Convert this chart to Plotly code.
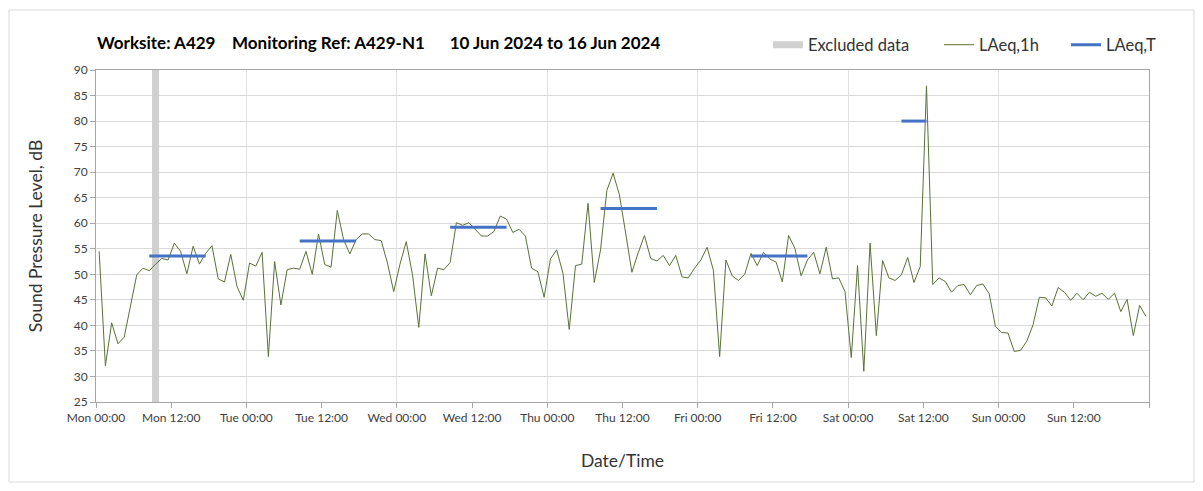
import pandas as pd
import plotly.graph_objects as go

# ---- data ----
start = "2024-06-10 00:00"
laeq_1h = [
    # Mon
    54.5, 32.1, 40.5, 36.4, 37.7, 44.0, 49.9, 51.2, 50.7, 52.0, 53.1, 52.8,
    56.1, 54.5, 50.1, 55.5, 52.0, 54.1, 55.6, 49.1, 48.5, 53.9, 47.6, 44.9,
    # Tue
    52.2, 51.6, 54.3, 33.9, 52.5, 44.0, 50.9, 51.2, 51.0, 54.5, 50.0, 57.9,
    51.9, 51.4, 62.5, 56.8, 54.0, 56.8, 57.9, 57.9, 56.8, 56.6, 52.2, 46.6,
    # Wed
    52.0, 56.4, 49.9, 39.6, 54.0, 45.8, 51.2, 50.9, 52.3, 60.1, 59.6, 60.1,
    58.7, 57.5, 57.5, 58.4, 61.4, 60.8, 58.2, 58.8, 57.5, 51.2, 50.5, 45.5,
    # Thu
    53.0, 54.8, 50.2, 39.2, 51.7, 52.0, 63.9, 48.4, 54.8, 66.4, 69.8, 65.6,
    58.1, 50.4, 54.2, 57.6, 53.1, 52.6, 53.7, 51.7, 53.7, 49.5, 49.3, 51.2,
    # Fri
    52.8, 55.3, 50.8, 33.9, 52.8, 49.7, 48.8, 50.0, 54.1, 51.7, 54.3, 53.0,
    52.4, 48.5, 57.6, 55.1, 49.7, 52.8, 54.3, 50.1, 55.3, 49.1, 49.3, 46.6,
    # Sat
    33.7, 51.7, 31.0, 56.1, 38.0, 52.7, 49.3, 48.8, 49.9, 53.3, 48.4, 51.5,
    86.9, 48.0, 49.3, 48.6, 46.5, 47.8, 48.0, 46.0, 47.8, 48.1, 46.2, 39.8,
    # Sun
    38.6, 38.5, 34.9, 35.1, 36.9, 40.1, 45.5, 45.4, 43.8, 47.4, 46.5, 44.9,
    46.3, 45.0, 46.5, 45.7, 46.3, 45.1, 46.3, 42.7, 45.1, 38.0, 43.9, 41.8,
]
# LAeq,T periods: (start hour index, end hour index, value)
period_start_idx = [8, 32, 56, 80, 104, 128]
period_end_idx = [17, 41, 65, 89, 113, 132]
period_values = [53.6, 56.5, 59.2, 62.9, 53.6, 80.0]
# excluded data (hour index)
excluded_idx = [9]

y_ticks = list(range(25, 91, 5))
x_tick_labels = ["Mon 00:00", "Mon 12:00", "Tue 00:00", "Tue 12:00", "Wed 00:00",
                 "Wed 12:00", "Thu 00:00", "Thu 12:00", "Fri 00:00", "Fri 12:00",
                 "Sat 00:00", "Sat 12:00", "Sun 00:00", "Sun 12:00", ""]

# ---- build ----
t0 = pd.Timestamp(start)
times = [t0 + pd.Timedelta(minutes=30) + pd.Timedelta(hours=i) for i in range(len(laeq_1h))]
x_tick_vals = [t0 + pd.Timedelta(hours=12 * k) for k in range(len(x_tick_labels))]
x_end = t0 + pd.Timedelta(days=7)

fig = go.Figure()

for k, idx in enumerate(excluded_idx):
    fig.add_trace(go.Scatter(
        x=[times[idx], times[idx]], y=[25, 90], mode="lines",
        line=dict(color="#d0d0d0", width=7),
        name="Excluded data", showlegend=(k == 0), legend="legend", hoverinfo="skip"))

fig.add_trace(go.Scatter(
    x=times, y=laeq_1h, mode="lines",
    line=dict(color="#5a7038", width=1), name="LAeq,1h", legend="legend2"))

tx, ty = [], []
for s, e, v in zip(period_start_idx, period_end_idx, period_values):
    tx += [times[s], times[e], None]
    ty += [v, v, None]
fig.add_trace(go.Scatter(
    x=tx, y=ty, mode="lines", connectgaps=False,
    line=dict(color="#4472c4", width=3), name="LAeq,T", legend="legend3"))

fig.add_trace(go.Scatter(x=[t0], y=[None], xaxis="x2", showlegend=False, hoverinfo="skip"))

font_family = "Lato, Noto Sans, sans-serif"
OFF = 8  # page body margin
W, H = 1203 - 2 * OFF, 491 - 2 * OFF
# plot area in window pixels: x 96..1149, y 70..402
L = 96 - OFF
R = W - (1149 - OFF)
T = 70 - OFF
B = H - (402 - OFF)
pw, ph = W - L - R, H - T - B


def px_x(wx):
    return (wx - OFF - L) / pw


def px_y(wy):
    return (H - B - (wy - OFF)) / ph


leg_common = dict(orientation="h", yanchor="middle", xanchor="left",
                  font=dict(size=16.5, color="#333333"), bgcolor="rgba(0,0,0,0)",
                  itemwidth=30)

fig.update_layout(
    width=W, height=H,
    margin=dict(l=L, r=R, t=T, b=B, autoexpand=False),
    paper_bgcolor="white", plot_bgcolor="white",
    font=dict(family=font_family, size=12, color="#404040"),
    showlegend=True,
    legend=dict(x=px_x(768), y=px_y(45), **leg_common),
    legend2=dict(x=px_x(939), y=px_y(45), **leg_common),
    legend3=dict(x=px_x(1066), y=px_y(45), **leg_common),
    xaxis=dict(
        type="date", range=[t0, x_end], automargin=False,
        tickvals=x_tick_vals, ticktext=x_tick_labels,
        showgrid=False, showline=True, linecolor="#a6a6a6", linewidth=1, mirror=True,
        ticks="outside", ticklen=5, tickcolor="#a6a6a6",
        tickfont=dict(size=12, color="#404040"),
        title=dict(text="Date/Time", font=dict(size=17.5, color="#333333"), standoff=30),
        zeroline=False,
    ),
    xaxis2=dict(
        type="date", range=[t0, x_end], overlaying="x", side="bottom",
        dtick=24 * 3600 * 1000, tick0=t0, showticklabels=False,
        showgrid=True, gridcolor="#e0e0e0", gridwidth=1, showline=False, ticks="",
        zeroline=False, layer="below traces",
    ),
    yaxis=dict(
        range=[25, 90], tickvals=y_ticks, ticktext=[str(v) for v in y_ticks],
        automargin=False,
        showgrid=True, gridcolor="#d9d9d9", gridwidth=1,
        showline=True, linecolor="#a6a6a6", linewidth=1, mirror=True,
        ticks="outside", ticklen=5, tickcolor="#a6a6a6",
        tickfont=dict(size=12, color="#404040"),
        title=dict(text="Sound Pressure Level, dB", font=dict(size=17.5, color="#333333"), standoff=26),
        zeroline=False,
    ),
    shapes=[dict(type="rect", xref="paper", yref="paper",
                 x0=px_x(9), x1=px_x(1194), y0=px_y(482), y1=px_y(10),
                 line=dict(color="#d9d9d9", width=1), fillcolor="rgba(0,0,0,0)", layer="below")],
    annotations=[dict(
        text="<b>Worksite: A429&nbsp;&nbsp;&nbsp;&nbsp;Monitoring Ref: A429-N1&nbsp;&nbsp;&nbsp;&nbsp;&nbsp;&nbsp;10 Jun 2024 to 16 Jun 2024</b>",
        xref="paper", yref="paper", x=px_x(95), y=px_y(42), xanchor="left", yanchor="middle",
        showarrow=False, font=dict(size=17, color="#000000"))],
)

fig.write_html("out.html")
